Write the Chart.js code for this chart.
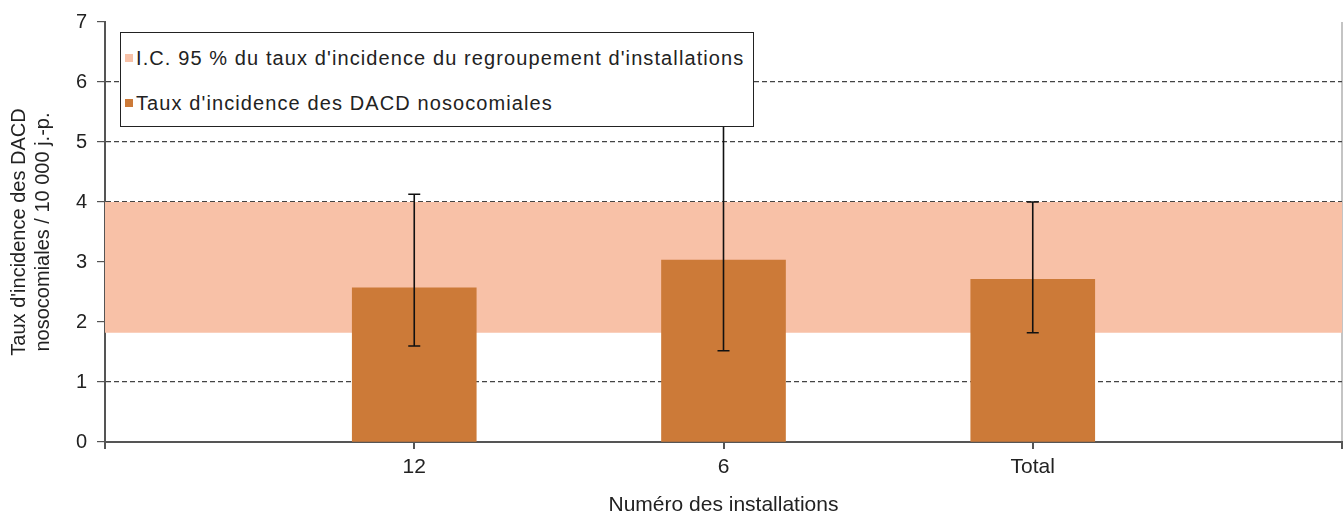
<!DOCTYPE html>
<html lang="fr">
<head>
<meta charset="utf-8">
<script src="https://cdn.jsdelivr.net/npm/chart.js@4/dist/chart.umd.min.js"></script>
<style>
  html, body { margin: 0; padding: 0; background: #fff; }
  #wrap { position: relative; width: 1344px; height: 516px; }
  #legende {
    position: absolute; left: 120px; top: 32px; width: 632px; height: 93px;
    background: #fff; border: 1.5px solid #222;
    font-family: "Liberation Sans", Arial, sans-serif; font-size: 20px; color: #222;
    letter-spacing: 1.1px; line-height: 22px;
  }
  #legende div { position: absolute; left: 4px; white-space: nowrap; }
  #legende span.sq { display: inline-block; width: 8px; height: 8px; margin-right: 3px; vertical-align: 3px; }
</style>
</head>
<body>
<div id="wrap">
  <canvas id="graphique"></canvas>
  <div id="legende"></div>
</div>
<script>
// données
const installations = ['12', '6', 'Total'];
const taux = [2.57, 3.03, 2.71];
const icBas = [1.60, 1.52, 1.82];
const icHaut = [4.13, 5.60, 4.00];
// intervalle de confiance du regroupement
const bandeBas = 1.82;
const bandeHaut = 4.00;
const ticksY = [0, 1, 2, 3, 4, 5, 6, 7];

const couleurBarre = '#CC7A38';
const couleurBande = '#F8C1A7';
const nomBande = "I.C. 95 % du taux d'incidence du regroupement d'installations";
const nomTaux = "Taux d'incidence des DACD nosocomiales";

// une catégorie vide de chaque côté pour que la bande couvre toute la largeur
const labels = [''].concat(installations, ['']);
const donneesTaux = [null].concat(taux, [null]);
const ligneBas = labels.map(() => bandeBas);
const ligneHaut = labels.map(() => bandeHaut);

const police = '"Liberation Sans", Arial, sans-serif';

// barres d'erreur dessinées avec les échelles du graphique
const barresErreur = {
  id: 'barresErreur',
  afterDatasetsDraw(chart) {
    const meta = chart.getDatasetMeta(2);
    const y = chart.scales.y;
    const ctx = chart.ctx;
    ctx.save();
    ctx.strokeStyle = '#111';
    ctx.lineWidth = 1.6;
    installations.forEach((_, i) => {
      const bar = meta.data[i + 1];
      if (!bar) return;
      const x = bar.x;
      const yh = y.getPixelForValue(icHaut[i]);
      const yb = y.getPixelForValue(icBas[i]);
      ctx.beginPath();
      ctx.moveTo(x, yh); ctx.lineTo(x, yb);
      ctx.moveTo(x - 6, yh); ctx.lineTo(x + 6, yh);
      ctx.moveTo(x - 6, yb); ctx.lineTo(x + 6, yb);
      ctx.stroke();
    });
    ctx.restore();
  }
};

new Chart(document.getElementById('graphique'), {
  type: 'bar',
  data: {
    labels: labels,
    datasets: [
      { type: 'line', label: 'bas', data: ligneBas, borderColor: 'rgba(0,0,0,0)',
        pointRadius: 0, fill: false, order: 3 },
      { type: 'line', label: nomBande, data: ligneHaut, borderColor: 'rgba(0,0,0,0)',
        backgroundColor: couleurBande, pointRadius: 0, fill: '-1', order: 2 },
      { type: 'bar', label: nomTaux, data: donneesTaux, backgroundColor: couleurBarre,
        barThickness: 124, order: 1 }
    ]
  },
  options: {
    responsive: true,
    maintainAspectRatio: false,
    animation: false,
    layout: { padding: { top: 20, right: 2, left: 0, bottom: 0 } },
    plugins: { legend: { display: false }, tooltip: { enabled: false } },
    scales: {
      x: {
        offset: false,
        grid: {
          offset: false,
          color: (c) => c.index === labels.length - 1 ? '#c4c4c4' : 'rgba(0,0,0,0)',
          lineWidth: 2,
          tickColor: '#555',
          tickLength: 7
        },
        border: { color: '#555', width: 2 },
        ticks: { font: { family: police, size: 21 }, color: '#222', padding: 6, maxRotation: 0 },
        title: { display: true, text: 'Numéro des installations',
          font: { family: police, size: 21, lineHeight: 1.0 }, color: '#222', padding: { top: 4, bottom: 0 } },
        afterFit: (s) => { s.height = 74; s.paddingLeft = 0; s.paddingRight = 0; }
      },
      y: {
        min: 0, max: 7,
        afterBuildTicks: (s) => { s.ticks = ticksY.map(v => ({ value: v })); },
        grid: {
          color: (c) => (c.tick && (c.tick.value === 0 || c.tick.value === 7)) ? 'rgba(0,0,0,0)' : '#444',
          lineWidth: 1.2,
          tickColor: '#555',
          tickLength: 8
        },
        border: { color: '#555', width: 2, dash: [5, 3] },
        ticks: { font: { family: police, size: 20 }, color: '#222', padding: 10 },
        title: { display: true, text: ["Taux d'incidence des DACD", 'nosocomiales / 10 000 j.-p.'],
          font: { family: police, size: 20, lineHeight: 1.2 }, color: '#222', padding: { top: 7 } },
        afterFit: (s) => { s.width = 105; }
      }
    }
  },
  plugins: [barresErreur]
});

// légende en texte, placée dans la zone du graphique
const leg = document.getElementById('legende');
[[nomBande, couleurBande, 14], [nomTaux, couleurBarre, 59]].forEach(([t, c, top]) => {
  const d = document.createElement('div');
  d.style.top = top + 'px';
  d.innerHTML = '<span class="sq" style="background:' + c + '"></span>' + t;
  leg.appendChild(d);
});
</script>
</body>
</html>
